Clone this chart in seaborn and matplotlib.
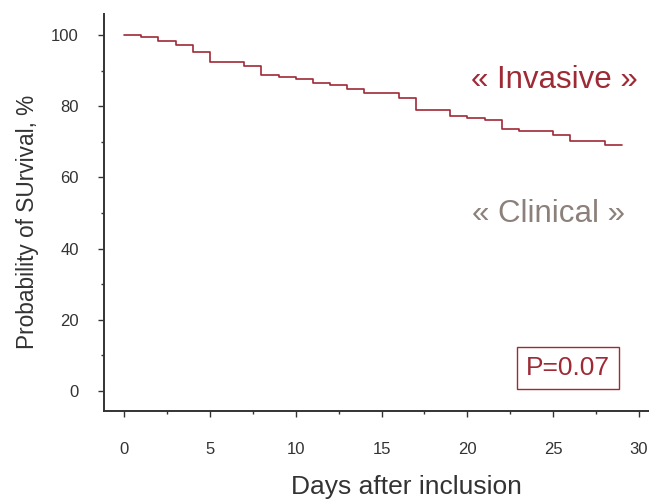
import numpy as np
import pandas as pd
import matplotlib
matplotlib.use("Agg")
import matplotlib.pyplot as plt
import seaborn as sns

# Kaplan-Meier steps ("Invasive" group)
days = [0, 1, 2, 3, 4, 5, 7, 8, 9, 10, 11, 12, 13, 14, 16, 17, 19, 20, 21, 22, 23, 25, 26, 28, 29]
survival = [100, 99.5, 98.2, 97.1, 95.2, 92.3, 91.2, 88.9, 88.3, 87.7, 86.6, 86.0, 84.8, 83.7,
            82.4, 78.9, 77.2, 76.6, 76.1, 73.6, 73.1, 71.8, 70.2, 69.0, 69.0]

x_ticks = [0, 5, 10, 15, 20, 25, 30]
y_ticks = [0, 20, 40, 60, 80, 100]

red = "#9e2a36"
grey = "#8c807b"
ink = "#333333"

sns.set_style("ticks")
plt.rcParams["font.family"] = ["Liberation Sans", "DejaVu Sans"]

df = pd.DataFrame({"day": days, "surv": survival})

fig = plt.figure(figsize=(6.49, 5.0), dpi=100)
ax = fig.add_axes([0.161, 0.178, 0.839, 0.794])

sns.lineplot(data=df, x="day", y="surv", drawstyle="steps-post", color=red, lw=1.2, ax=ax)

ax.set_xlim(-1.14, 30.58)
ax.set_ylim(-5.6, 105.9)
ax.set_xticks(x_ticks)
ax.set_yticks(y_ticks)
ax.set_xticks(np.arange(0, 31, 2.5), minor=True)
ax.set_yticks(np.arange(10, 100, 20), minor=True)
ax.tick_params(axis="both", which="major", length=4.5, width=1, color=ink, labelcolor=ink, labelsize=12)
ax.tick_params(axis="both", which="minor", length=2.5, width=1, color=ink)
ax.tick_params(axis="x", pad=17.5)
ax.tick_params(axis="y", pad=14)

for s in ["top", "right"]:
    ax.spines[s].set_visible(False)
for s in ["left", "bottom"]:
    ax.spines[s].set_color(ink)
    ax.spines[s].set_linewidth(1.4)

ax.set_xlabel("Days after inclusion", fontsize=19, color=ink, labelpad=13)
ax.set_ylabel("Probability of SUrvival, %", fontsize=16.3, color=ink, labelpad=9)
# the labels sit off-centre in the original
ax.xaxis.label.set_x(0.554)
ax.yaxis.label.set_y(0.476)

ax.text(29.95, 87.5, "« Invasive »", color=red, fontsize=22.5, ha="right", va="center")
ax.text(29.2, 49.8, "« Clinical »", color=grey, fontsize=22.5, ha="right", va="center")
ax.text(25.85, 6.5, "P=0.07", color=red, fontsize=19, ha="center", va="center",
        bbox=dict(boxstyle="square,pad=0.35", fc="white", ec=red, lw=1))

fig.savefig("out.png", dpi=100)
